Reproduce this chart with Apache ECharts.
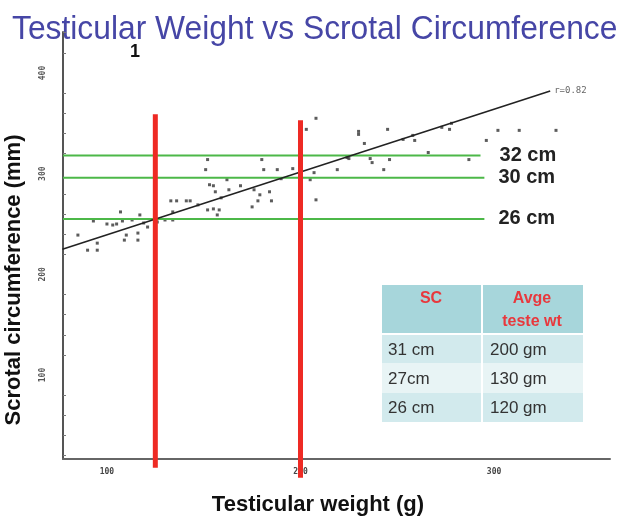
<!DOCTYPE html>
<html>
<head>
<meta charset="utf-8">
<style>
  html, body { margin: 0; padding: 0; background: #fff; }
  #chart { width: 640px; height: 522px; }
</style>
<script src="https://cdn.jsdelivr.net/npm/echarts@6/dist/echarts.min.js"></script>
</head>
<body>
<div id="chart"></div>
<script>
// scatter (weight g, circumference mm)
const weight = [85, 90, 95, 95, 93, 100, 103, 105, 107, 108, 110, 109, 116, 116, 113, 117, 119, 121, 126, 130,
  134, 133, 136, 141, 134, 147, 152, 155, 153, 155, 152, 151, 156, 159, 158, 157, 162, 169, 176, 175,
  179, 178, 185, 184, 180, 181, 188, 190, 196, 203, 208, 205, 207, 208, 219, 224, 230, 230, 233, 245,
  253, 258, 259, 273, 277, 278, 225, 236, 237, 246, 243, 266, 302, 313, 332, 296, 287, 163, 143]
const circ = [239, 224, 224, 231, 253, 250, 249, 250, 262, 253, 239, 234, 234, 241, 254, 259, 251, 247, 252, 254,
  254, 273, 273, 273, 262, 269, 264, 265, 289, 288, 314, 304, 282, 276, 264, 259, 294, 288, 284, 267,
  279, 273, 273, 282, 314, 304, 304, 295, 305, 344, 355, 294, 301, 274, 304, 316, 342, 339, 330, 344,
  334, 338, 333, 346, 344, 350, 315, 315, 311, 314, 304, 321, 343, 343, 343, 333, 314, 284, 273]

const fitX = [77, 329]
const fitY = [225, 382]

const refName = ['32 cm', '30 cm', '26 cm']
const refLevel = [318, 296, 255]
const refEnd = [293, 295, 295]

const cutWeight = [125, 200]
const cutTop = [359, 353]
const cutBottom = [8, -2]

const xTicks = [100, 200, 300]
const yTicks = [100, 200, 300, 400]
const yMinor = [20, 40, 60, 80, 120, 140, 160, 180, 220, 240, 260, 280, 320, 340, 360, 380, 420, 440]

const tableSC = ['31 cm', '27cm', '26 cm']
const tableWt = ['200 gm', '130 gm', '120 gm']

const myChart = echarts.init(document.getElementById('chart'))

const series = []
refLevel.forEach((lv, i) => {
  series.push({
    name: refName[i],
    type: 'line',
    data: [[77.3, lv], [refEnd[i], lv]],
    showSymbol: false,
    silent: true,
    lineStyle: { color: '#4cb848', width: 2 },
    endLabel: {
      show: true,
      formatter: refName[i],
      distance: i === 0 ? 19 : 14,
      color: '#222',
      fontSize: 20,
      fontWeight: 'bold',
      fontFamily: 'Liberation Sans'
    }
  })
})
series.push({
  type: 'line',
  data: [[fitX[0], fitY[0]], [fitX[1], fitY[1]]],
  showSymbol: false,
  lineStyle: { color: '#222', width: 1.6 },
  endLabel: { show: true, formatter: 'r=0.82', distance: 4, color: '#666', fontSize: 9, fontFamily: 'DejaVu Sans Mono' }
})
series.push({
  type: 'scatter',
  data: weight.map((w, i) => [w, circ[i]]),
  symbol: 'rect',
  symbolSize: 3,
  itemStyle: { color: '#333' }
})
cutWeight.forEach((w, i) => {
  series.push({
    type: 'line',
    data: [[w, cutTop[i]], [w, cutBottom[i]]],
    showSymbol: false,
    clip: false,
    lineStyle: { color: '#ee2a24', width: 5, cap: 'butt' }
  })
})

const tableRows = []
const rowY = [335, 363, 393]
const rowH = [28, 30, 29]
const rowFill = ['#d2eaed', '#e8f4f5', '#d2eaed']
rowY.forEach((y, i) => {
  tableRows.push({ type: 'rect', shape: { x: 382, y: y, width: 99, height: rowH[i] }, style: { fill: rowFill[i] } })
  tableRows.push({ type: 'rect', shape: { x: 483, y: y, width: 100, height: rowH[i] }, style: { fill: rowFill[i] } })
  tableRows.push({ type: 'text', x: 388, y: y + rowH[i] / 2 + 1, style: { text: tableSC[i], font: '17px Liberation Sans', fill: '#333', verticalAlign: 'middle' } })
  tableRows.push({ type: 'text', x: 490, y: y + rowH[i] / 2 + 1, style: { text: tableWt[i], font: '17px Liberation Sans', fill: '#333', verticalAlign: 'middle' } })
})

const option = {
  animation: false,
  grid: { left: 63, top: 32, right: 30, bottom: 63 },
  xAxis: {
    type: 'value',
    min: 77.3,
    max: 359.9,
    splitLine: { show: false },
    axisLine: { lineStyle: { color: '#666', width: 2 } },
    axisTick: { show: false },
    axisLabel: { customValues: xTicks, fontSize: 8, fontWeight: 'bold', color: '#444', margin: 9, fontFamily: 'DejaVu Sans Mono' }
  },
  yAxis: {
    type: 'value',
    min: 16.6,
    max: 440.7,
    splitLine: { show: false },
    axisLine: { show: true, lineStyle: { color: '#555', width: 2 } },
    axisTick: { show: true, inside: true, length: 3, customValues: yMinor, lineStyle: { color: '#777' } },
    axisLabel: { customValues: yTicks, rotate: 90, fontSize: 8, fontWeight: 'bold', color: '#555', margin: 16, fontFamily: 'DejaVu Sans Mono' }
  },
  series: series,
  graphic: [
    {
      type: 'text', x: 12, y: 30, scaleX: 0.935,
      style: { text: 'Testicular Weight vs Scrotal Circumference', font: '34px Liberation Sans', fill: '#4646a6', verticalAlign: 'middle' }
    },
    { type: 'text', x: 135, y: 52, style: { text: '1', font: 'bold 18px Liberation Sans', fill: '#111', align: 'center', verticalAlign: 'middle' } },
    {
      type: 'text', x: 14, y: 280, rotation: Math.PI / 2,
      style: { text: 'Scrotal circumference (mm)', font: 'bold 22px Liberation Sans', fill: '#111', align: 'center', verticalAlign: 'middle' }
    },
    { type: 'text', x: 318, y: 505, style: { text: 'Testicular weight (g)', font: 'bold 22px Liberation Sans', fill: '#111', align: 'center', verticalAlign: 'middle' } },
    { type: 'rect', shape: { x: 382, y: 285, width: 99, height: 48 }, style: { fill: '#a7d6db' } },
    { type: 'rect', shape: { x: 483, y: 285, width: 100, height: 48 }, style: { fill: '#a7d6db' } },
    { type: 'text', x: 431, y: 299, style: { text: 'SC', font: 'bold 16px Liberation Sans', fill: '#e8383d', align: 'center', verticalAlign: 'middle' } },
    { type: 'text', x: 532, y: 299, style: { text: 'Avge', font: 'bold 16px Liberation Sans', fill: '#e8383d', align: 'center', verticalAlign: 'middle' } },
    { type: 'text', x: 532, y: 322, style: { text: 'teste wt', font: 'bold 16px Liberation Sans', fill: '#e8383d', align: 'center', verticalAlign: 'middle' } }
  ].concat(tableRows)
}
myChart.setOption(option)
</script>
</body>
</html>
